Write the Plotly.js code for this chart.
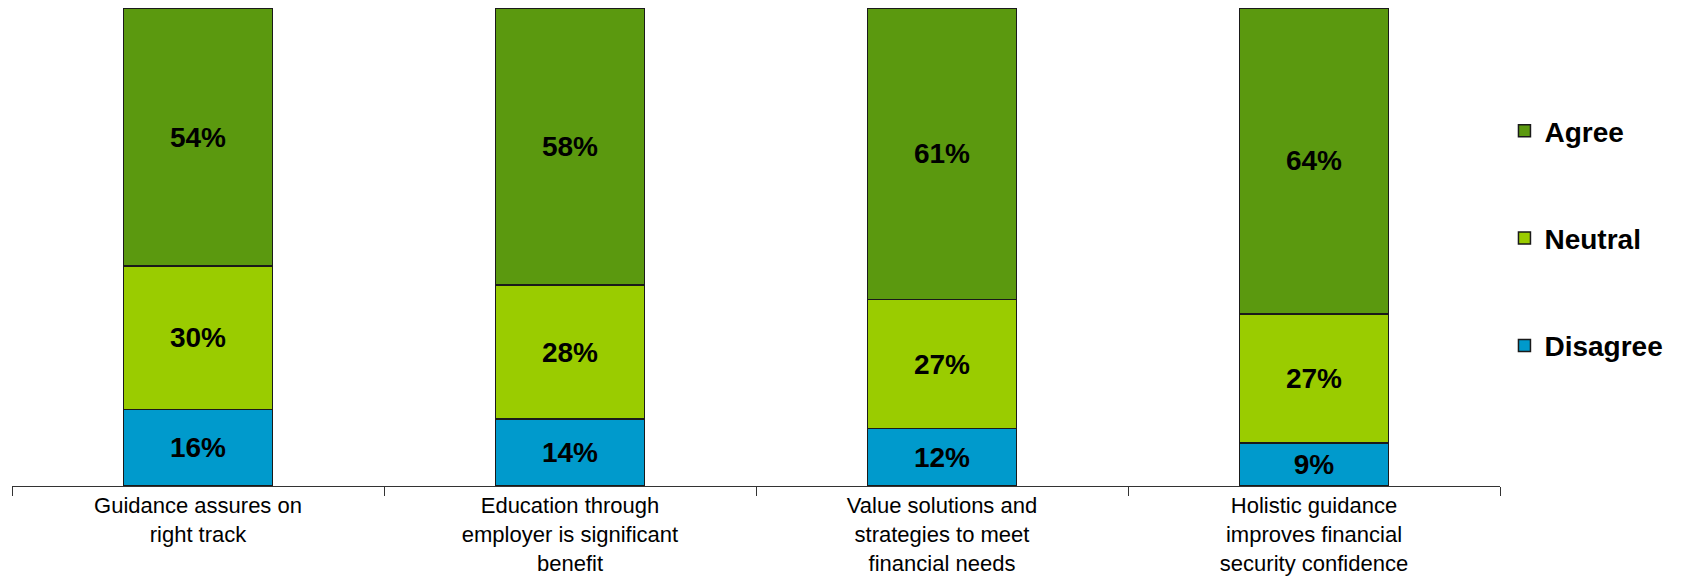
<!DOCTYPE html>
<html>
<head>
<meta charset="utf-8">
<script src="https://cdn.plot.ly/plotly-3.0.1.min.js"></script>
<style>html,body{margin:0;padding:0;background:#fff;}#chart{width:1682px;height:576px;}</style>
</head>
<body>
<div id="chart"></div>
<script>
const categories = [
  "Guidance assures on<br>right track",
  "Education through<br>employer is significant<br>benefit",
  "Value solutions and<br>strategies to meet<br>financial needs",
  "Holistic guidance<br>improves financial<br>security confidence"
];
const disagree = [16, 14, 12, 9];
const neutral = [30, 28, 27, 27];
const agree = [54, 58, 61, 64];
const seriesNames = ["Disagree", "Neutral", "Agree"];
const seriesColors = ["#009ACC", "#9ACC00", "#5B990F"];
const legendRanks = [3, 2, 1];

const seriesValues = [disagree, neutral, agree];
const FONT = "Liberation Sans, Arial, sans-serif";
const traces = seriesValues.map((vals, i) => ({
  type: "bar",
  name: seriesNames[i],
  legendgroup: seriesNames[i],
  legendrank: legendRanks[i],
  x: categories,
  y: vals,
  marker: {color: seriesColors[i], line: {color: "#1a1a1a", width: 1.5}},
  text: vals.map(v => v + "%"),
  textposition: "inside",
  insidetextanchor: "middle",
  constraintext: "none",
  textangle: 0,
  textfont: {family: FONT, size: 28, color: "#000", weight: "bold"},
  hoverinfo: "skip"
}));

const layout = {
  width: 1682,
  height: 576,
  barmode: "stack",
  bargap: 0.6,
  margin: {l: 12, r: 182, t: 8, b: 90},
  paper_bgcolor: "#fff",
  plot_bgcolor: "#fff",
  font: {family: FONT, color: "#000"},
  xaxis: {
    type: "category",
    showline: true,
    linecolor: "#333",
    linewidth: 1,
    ticks: "outside",
    tickson: "boundaries",
    ticklen: 9,
    tickcolor: "#333",
    tickwidth: 1,
    tickfont: {family: FONT, size: 22, color: "#000"},
    showgrid: false,
    zeroline: false,
    fixedrange: true
  },
  yaxis: {
    visible: false,
    range: [0, 100],
    showgrid: false,
    zeroline: false,
    fixedrange: true
  },
  legend: {
    traceorder: "grouped",
    tracegroupgap: 68,
    x: 1.003,
    xanchor: "left",
    y: 0.795,
    yanchor: "top",
    font: {family: FONT, size: 28, color: "#000", weight: "bold"},
    bgcolor: "rgba(0,0,0,0)"
  },
  showlegend: true
};

Plotly.newPlot("chart", traces, layout, {displayModeBar: false, staticPlot: true});
</script>
</body>
</html>
